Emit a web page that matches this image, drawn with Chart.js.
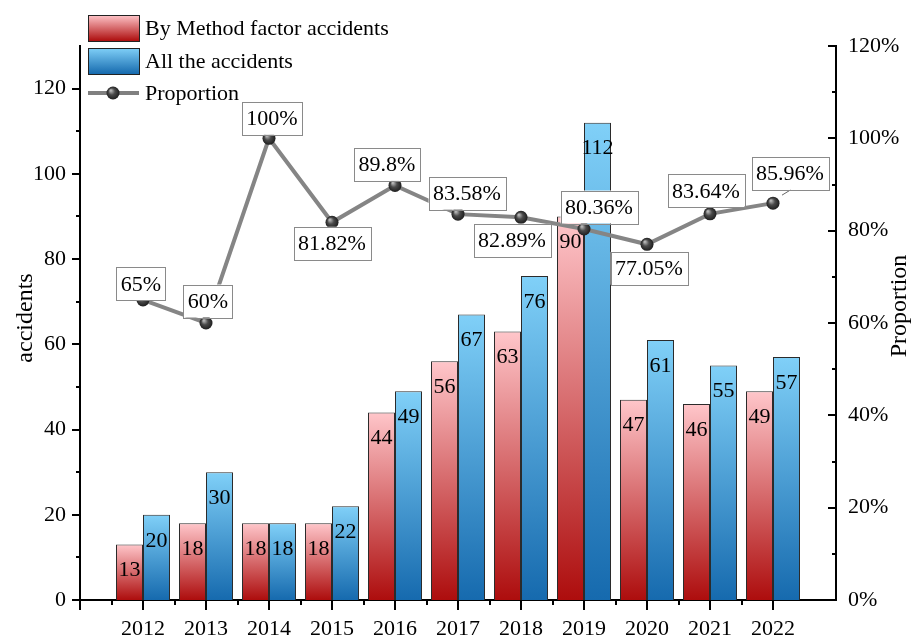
<!DOCTYPE html>
<html>
<head>
<meta charset="utf-8">
<script src="https://cdn.jsdelivr.net/npm/chart.js@4/dist/chart.umd.min.js"></script>
<style>
  html, body { margin: 0; padding: 0; background: #fff; }
  #wrap { width: 915px; height: 637px; }
</style>
</head>
<body>
<div id="wrap"><canvas id="accidents-chart" width="915" height="637"></canvas></div>
<script>
const years = [2012, 2013, 2014, 2015, 2016, 2017, 2018, 2019, 2020, 2021, 2022];
const methodAccidents = [13, 18, 18, 18, 44, 56, 63, 90, 47, 46, 49];
const allAccidents = [20, 30, 18, 22, 49, 67, 76, 112, 61, 55, 57];
const proportion = [65, 60, 100, 81.82, 89.8, 83.58, 82.89, 80.36, 77.05, 83.64, 85.96];

const seriesNames = ['By Method factor accidents', 'All the accidents', 'Proportion'];
const axisTitles = ['accidents', 'Proportion'];

// where each percentage box sits relative to its point (box centre offset)
const boxOffsets = [[-2, -16], [2, -22], [3, -20], [0, 21], [-8, -21], [9, -21],
                    [-9, 23], [15, -22], [2, 24], [-4, -23], [17, -30]];

const FONT = '"Liberation Serif", "Times New Roman", serif';
const RED = ['#ffc6ca', '#ad0d0d'];
const BLUE = ['#80d0f8', '#166aae'];

function barGradient(colors) {
    return function (ctx) {
        const chart = ctx.chart;
        if (ctx.type !== 'data' || !chart.chartArea) return colors[0];
        const y = chart.scales.y;
        const top = y.getPixelForValue(ctx.raw.y);
        const bottom = y.getPixelForValue(0);
        const g = chart.ctx.createLinearGradient(0, top, 0, bottom);
        g.addColorStop(0, colors[0]);
        g.addColorStop(1, colors[1]);
        return g;
    };
}

function sphere(c, x, y, r) {
    const g = c.createRadialGradient(x - r * 0.35, y - r * 0.4, r * 0.1, x, y, r);
    g.addColorStop(0, '#b5b5b5');
    g.addColorStop(0.45, '#4a4a4a');
    g.addColorStop(1, '#1e1e1e');
    return g;
}

function pointFill(ctx) {
    const chart = ctx.chart;
    if (ctx.type !== 'data' || !chart.chartArea) return '#333';
    const x = chart.scales.x.getPixelForValue(ctx.raw.x);
    const y = chart.scales.y1.getPixelForValue(ctx.raw.y);
    return sphere(chart.ctx, x, y, 6.5);
}

const toPoints = (vals) => years.map((yr, i) => ({x: yr, y: vals[i]}));

// values printed inside the bars, drawn right after each bar dataset
const barValues = {
    id: 'barValues',
    afterDatasetDraw(chart, args) {
        if (args.meta.type !== 'bar') return;
        const c = chart.ctx;
        c.save();
        c.font = '22px ' + FONT;
        c.fillStyle = '#000';
        c.textAlign = 'center';
        c.textBaseline = 'middle';
        args.meta.data.forEach((el, i) => {
            const v = chart.data.datasets[args.index].data[i].y;
            c.fillText(String(v), el.x, el.y + 26);
        });
        c.restore();
    }
};

// boxed percentage labels on the proportion line
const lineValues = {
    id: 'lineValues',
    afterDatasetsDraw(chart) {
        const meta = chart.getDatasetMeta(2);
        const c = chart.ctx;
        c.save();
        c.font = '22px ' + FONT;
        c.textAlign = 'center';
        c.textBaseline = 'middle';
        meta.data.forEach((pt, i) => {
            const txt = proportion[i] + '%';
            const w = c.measureText(txt).width + 9;
            const h = 33;
            const cx = pt.x + boxOffsets[i][0];
            const cy = pt.y + boxOffsets[i][1];
            if (i === proportion.length - 1) {
                c.strokeStyle = '#666';
                c.lineWidth = 1;
                c.beginPath();
                c.moveTo(pt.x + 9, pt.y - 8);
                c.lineTo(pt.x + 18, cy + h / 2);
                c.stroke();
            }
            c.fillStyle = '#fff';
            c.fillRect(cx - w / 2, cy - h / 2, w, h);
            c.strokeStyle = '#8a8a8a';
            c.lineWidth = 1;
            c.strokeRect(Math.round(cx - w / 2) + 0.5, Math.round(cy - h / 2) + 0.5, Math.round(w), h);
            c.fillStyle = '#000';
            c.fillText(txt, cx, cy + 1);
        });
        c.restore();
    }
};

// tick marks (major + minor), axis titles and the legend
const decorations = {
    id: 'decorations',
    afterDraw(chart) {
        const c = chart.ctx;
        const {x, y, y1} = chart.scales;
        const area = chart.chartArea;
        c.save();
        c.strokeStyle = '#000';
        c.lineWidth = 2;
        c.beginPath();
        for (let v = 0; v <= 120; v += 10) {
            const py = Math.round(y.getPixelForValue(v));
            const len = v % 20 === 0 ? 8 : 4;
            c.moveTo(area.left, py); c.lineTo(area.left - len, py);
        }
        for (let v = 0; v <= 120; v += 10) {
            const py = Math.round(y1.getPixelForValue(v));
            const len = v % 20 === 0 ? 8 : 4;
            c.moveTo(area.right, py); c.lineTo(area.right - len, py);
        }
        for (let v = years[0] - 1; v <= years[years.length - 1]; v += 0.5) {
            const px = Math.round(x.getPixelForValue(v));
            const len = Number.isInteger(v) ? 10 : 5;
            c.moveTo(px, area.bottom); c.lineTo(px, area.bottom + len);
        }
        c.stroke();

        c.fillStyle = '#000';
        c.font = '24px ' + FONT;
        c.textAlign = 'center';
        c.textBaseline = 'middle';
        c.save();
        c.translate(26, 318);
        c.rotate(-Math.PI / 2);
        c.fillText(axisTitles[0], 0, 0);
        c.restore();
        c.save();
        c.translate(900, 306);
        c.rotate(-Math.PI / 2);
        c.fillText(axisTitles[1], 0, 0);
        c.restore();

        // legend
        c.font = '22px ' + FONT;
        c.textAlign = 'left';
        const lx = 88, lw = 51;
        [[RED, 15], [BLUE, 48]].forEach(([cols, top], k) => {
            const g = c.createLinearGradient(0, top, 0, top + 26);
            g.addColorStop(0, cols[0]);
            g.addColorStop(1, cols[1]);
            c.fillStyle = g;
            c.fillRect(lx, top, lw, 26);
            c.strokeStyle = '#222';
            c.lineWidth = 1;
            c.strokeRect(lx + 0.5, top + 0.5, lw, 26);
            c.fillStyle = '#000';
            c.fillText(seriesNames[k], 145, top + 14);
        });
        c.strokeStyle = '#808080';
        c.lineWidth = 4;
        c.beginPath();
        c.moveTo(lx, 93); c.lineTo(lx + lw, 93);
        c.stroke();
        c.fillStyle = sphere(c, lx + 25, 93, 6.5);
        c.beginPath();
        c.arc(lx + 25, 93, 6.5, 0, Math.PI * 2);
        c.fill();
        c.fillStyle = '#000';
        c.fillText(seriesNames[2], 145, 94);
        c.restore();
    }
};

new Chart(document.getElementById('accidents-chart'), {
    type: 'bar',
    data: {
        datasets: [{
            label: seriesNames[0],
            data: toPoints(methodAccidents),
            backgroundColor: barGradient(RED),
            borderColor: '#2b2b2b',
            borderWidth: 1,
            yAxisID: 'y',
            order: 1,
        }, {
            label: seriesNames[1],
            data: toPoints(allAccidents),
            backgroundColor: barGradient(BLUE),
            borderColor: '#2b2b2b',
            borderWidth: 1,
            yAxisID: 'y',
            order: 1,
        }, {
            type: 'line',
            label: seriesNames[2],
            data: toPoints(proportion),
            borderColor: '#858585',
            borderWidth: 4,
            pointRadius: 6.5,
            pointBorderWidth: 0,
            pointBackgroundColor: pointFill,
            yAxisID: 'y1',
            order: 0,
        }]
    },
    options: {
        responsive: false,
        animation: false,
        devicePixelRatio: 1,
        categoryPercentage: 54 / 63,
        barPercentage: 1,
        layout: { padding: { top: 46, left: 0, right: 0, bottom: 0 } },
        plugins: {
            legend: { display: false },
            tooltip: { enabled: false }
        },
        scales: {
            x: {
                type: 'linear',
                offset: false,
                min: years[0] - 1,
                max: years[years.length - 1] + 1,
                grid: { display: false, offset: false },
                border: { display: true, color: '#000', width: 2 },
                ticks: {
                    stepSize: 1,
                    autoSkip: false,
                    maxRotation: 0,
                    padding: 8,
                    color: '#000',
                    font: { family: FONT, size: 22 },
                    callback: (v) => years.includes(v) ? String(v) : ''
                },
                afterFit: (s) => { s.height = 37; }
            },
            y: {
                position: 'left',
                min: 0,
                max: 130,
                grid: { display: false },
                border: { display: true, color: '#000', width: 2 },
                ticks: {
                    stepSize: 20,
                    includeBounds: false,
                    padding: 6,
                    color: '#000',
                    font: { family: FONT, size: 22 }
                },
                afterFit: (s) => { s.width = 80; }
            },
            y1: {
                position: 'right',
                min: 0,
                max: 120,
                grid: { display: false },
                border: { display: true, color: '#000', width: 2 },
                ticks: {
                    stepSize: 20,
                    includeBounds: false,
                    padding: 4,
                    color: '#000',
                    font: { family: FONT, size: 22 },
                    callback: (v) => v + '%'
                },
                afterFit: (s) => { s.width = 79; }
            }
        }
    },
    plugins: [barValues, lineValues, decorations]
});
</script>
</body>
</html>
